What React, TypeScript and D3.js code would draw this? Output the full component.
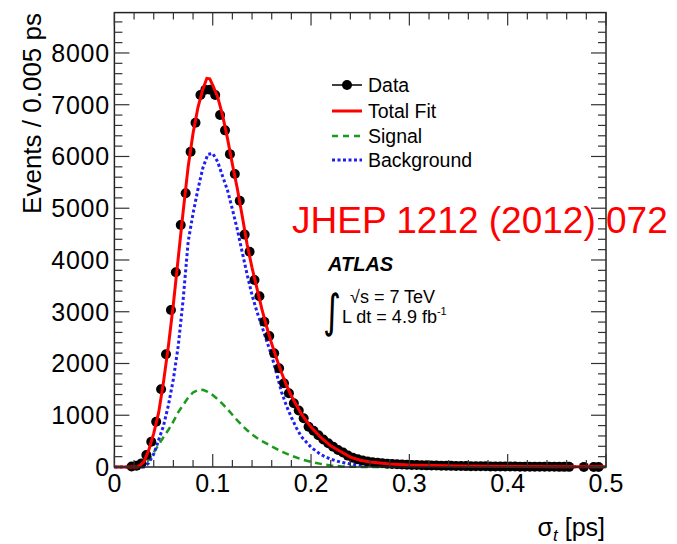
import React from 'react';
import * as d3 from 'd3';

const W = 677;
const H = 544;

// data points (bin centres, 0.005 ps bins)
const dataX = [
  0.0175, 0.0225, 0.0275, 0.0325, 0.0375, 0.0425, 0.0475, 0.0525, 0.0575, 0.0625,
  0.0675, 0.0725, 0.0775, 0.0825, 0.0875, 0.0925, 0.0975, 0.1025, 0.1075, 0.1125,
  0.1175, 0.1225, 0.1275, 0.1325, 0.1375, 0.1425, 0.1475, 0.1525, 0.1575, 0.1625,
  0.1675, 0.1725, 0.1775, 0.1825, 0.1875, 0.1925, 0.1975, 0.2025, 0.2075, 0.2125,
  0.2175, 0.2225, 0.2275, 0.2325, 0.2375, 0.2425, 0.2475, 0.2525, 0.2575, 0.2625,
  0.2675, 0.2725, 0.2775, 0.2825, 0.2875, 0.2925, 0.2975, 0.3025, 0.3075, 0.3125,
  0.3175, 0.3225, 0.3275, 0.3325, 0.3375, 0.3425, 0.3475, 0.3525, 0.3575, 0.3625,
  0.3675, 0.3725, 0.3775, 0.3825, 0.3875, 0.3925, 0.3975, 0.4025, 0.4075, 0.4125,
  0.4175, 0.4225, 0.4275, 0.4325, 0.4375, 0.4425, 0.4475, 0.4525, 0.4575, 0.4625,
  0.4775, 0.4875, 0.4925,
];
const dataY = [
  10, 25, 70, 232, 489, 875, 1501, 2177, 3034, 3762,
  4676, 5289, 6093, 6653, 7188, 7290, 7290, 7188, 6802, 6505,
  6045, 5660, 5146, 4490, 4160, 3614, 3300, 2808, 2531, 2197,
  1907, 1617, 1424, 1231, 1090, 941, 779, 700, 615, 530,
  460, 390, 330, 280, 220, 180, 150, 125, 105, 92,
  82, 73, 65, 58, 52, 47, 43, 40, 37, 35,
  32, 30, 28, 26, 24, 22, 20, 19, 17, 16,
  15, 14, 13, 12, 11, 10, 9, 9, 8, 7,
  7, 6, 6, 5, 5, 4, 4, 3, 3, 3,
  2, 1, 1,
];

// total fit
const fitX = [
  0, 0.024, 0.03, 0.035, 0.04, 0.045, 0.05, 0.055, 0.06, 0.065, 0.07, 0.075, 0.08,
  0.085, 0.09, 0.094, 0.097, 0.1, 0.105, 0.11, 0.115, 0.12, 0.125, 0.13, 0.135,
  0.14, 0.145, 0.15, 0.155, 0.16, 0.165, 0.17, 0.175, 0.18, 0.19, 0.2, 0.21, 0.22,
  0.23, 0.24, 0.25, 0.26, 0.28, 0.3, 0.35, 0.4, 0.45, 0.5,
];
const fitY = [
  0, 0, 100, 330, 650, 1050, 1650, 2350, 3150, 4050, 4950, 5800, 6450,
  6950, 7300, 7510, 7500, 7380, 7150, 6800, 6350, 5850, 5380, 4850, 4300,
  3850, 3450, 3050, 2700, 2380, 2090, 1820, 1580, 1370, 1030, 770, 570, 410,
  300, 190, 130, 95, 60, 40, 20, 10, 5, 3,
];

// signal component
const sigX = [
  0, 0.025, 0.03, 0.035, 0.04, 0.045, 0.05, 0.055, 0.06, 0.065, 0.07, 0.075, 0.08,
  0.085, 0.09, 0.095, 0.1, 0.105, 0.11, 0.115, 0.12, 0.125, 0.13, 0.135, 0.14,
  0.145, 0.15, 0.16, 0.17, 0.18, 0.19, 0.2, 0.21, 0.22, 0.23, 0.24, 0.25, 0.3, 0.5,
];
const sigY = [
  0, 0, 40, 140, 280, 430, 580, 720, 880, 1060, 1200, 1340, 1440,
  1485, 1490, 1450, 1390, 1310, 1220, 1120, 1010, 900, 800, 710, 630,
  560, 500, 400, 300, 220, 150, 100, 60, 30, 15, 5, 2, 0, 0,
];

// background component
const bkgX = [
  0, 0.03, 0.035, 0.04, 0.045, 0.05, 0.055, 0.06, 0.065, 0.07, 0.075, 0.08, 0.085,
  0.09, 0.095, 0.1, 0.105, 0.11, 0.115, 0.12, 0.125, 0.13, 0.135, 0.14, 0.145,
  0.15, 0.155, 0.16, 0.165, 0.17, 0.175, 0.18, 0.185, 0.19, 0.2, 0.21, 0.22, 0.23,
  0.24, 0.25, 0.28, 0.3, 0.4, 0.5,
];
const bkgY = [
  0, 0, 80, 250, 520, 800, 1200, 1700, 2350, 3250, 4350, 4900, 5370,
  5780, 6040, 6060, 5900, 5620, 5350, 4980, 4590, 4150, 3720, 3320, 3000,
  2720, 2430, 2150, 1800, 1450, 1180, 960, 760, 590, 380, 240, 150, 95,
  60, 40, 20, 15, 5, 2,
];

const xTicks = [0, 0.1, 0.2, 0.3, 0.4, 0.5];
const xTickLabels = ['0', '0.1', '0.2', '0.3', '0.4', '0.5'];
const yTicks = [0, 1000, 2000, 3000, 4000, 5000, 6000, 7000, 8000];

const legendItems = ['Data', 'Total Fit', 'Signal', 'Background'];

const FONT = "'Liberation Sans', Arial, Helvetica, sans-serif";

const x = d3.scaleLinear().domain([0, 0.5]).range([114.4, 606]);
const y = d3.scaleLinear().domain([0, 8780]).range([467, 12.6]);

function App() {
  const line = d3.line<[number, number]>().x(d => x(d[0])).y(d => y(d[1]));
  const fitPath = line(fitX.map((v, i) => [v, fitY[i]]));
  const sigPath = line(sigX.map((v, i) => [v, sigY[i]]));
  const bkgPath = line(bkgX.map((v, i) => [v, bkgY[i]]));

  const [x0, x1] = x.range();
  const [y0, y1] = y.range();

  const xMinor = d3.range(0, 0.5001, 0.02);
  const yMinor = d3.range(0, 8780, 200);

  const legY = [85, 111, 136, 160];

  return (
    <svg width={W} height={H} style={{ position: 'absolute', left: 0, top: 0, background: '#fff' }}
      fontFamily={FONT}>
      {/* curves */}
      <path d={sigPath!} fill="none" stroke="#1a9a1a" strokeWidth={2.5} strokeDasharray="7,4.5" />
      <path d={bkgPath!} fill="none" stroke="#1f1ff5" strokeWidth={3} strokeDasharray="3,2.5" />

      {/* data */}
      {dataX.map((v, i) => (
        <circle key={i} cx={x(v)} cy={y(dataY[i])} r={5} fill="#000" />
      ))}
      <path d={fitPath!} fill="none" stroke="#f00" strokeWidth={3} />

      {/* frame */}
      <rect x={x0} y={y1} width={x1 - x0} height={y0 - y1} fill="none" stroke="#222" strokeWidth={1.5} />

      {/* x ticks */}
      {xMinor.map((v, i) => {
        const major = i % 5 === 0;
        const len = major ? 13 : 7;
        return (
          <g key={'xt' + i} stroke="#333" strokeWidth={1.2}>
            <line x1={x(v)} x2={x(v)} y1={y0} y2={y0 - len} />
            <line x1={x(v)} x2={x(v)} y1={y1} y2={y1 + len} />
          </g>
        );
      })}
      {/* y ticks */}
      {yMinor.map((v, i) => {
        const major = i % 5 === 0;
        const len = major ? 15 : 8;
        return (
          <g key={'yt' + i} stroke="#333" strokeWidth={1.2}>
            <line x1={x0} x2={x0 + len} y1={y(v)} y2={y(v)} />
            <line x1={x1} x2={x1 - len} y1={y(v)} y2={y(v)} />
          </g>
        );
      })}

      {/* tick labels */}
      {xTicks.map((v, i) => (
        <text key={'xl' + i} x={x(v)} y={492} fontSize={25} textAnchor="middle" fill="#000">
          {xTickLabels[i]}
        </text>
      ))}
      {yTicks.map((v, i) => (
        <text key={'yl' + i} x={110} y={y(v) + 9} fontSize={25} textAnchor="end" fill="#000" letterSpacing={0.8}>
          {String(v)}
        </text>
      ))}

      {/* axis titles */}
      <text transform="translate(41,13) rotate(-90)" fontSize={26} textAnchor="end" fill="#000">
        Events / 0.005 ps
      </text>
      <text x={605} y={536} fontSize={25} textAnchor="end" fill="#000">
        σ<tspan fontStyle="italic" fontSize={17} dy={5}>t</tspan>
        <tspan dy={-5}> [ps]</tspan>
      </text>

      {/* legend */}
      <g>
        <line x1={332} x2={362} y1={legY[0]} y2={legY[0]} stroke="#000" strokeWidth={1.5} />
        <circle cx={347} cy={legY[0]} r={5} fill="#000" />
        <line x1={332} x2={362} y1={legY[1]} y2={legY[1]} stroke="#f00" strokeWidth={3} />
        <line x1={332} x2={362} y1={legY[2]} y2={legY[2]} stroke="#1a9a1a" strokeWidth={2.5} strokeDasharray="6,5" />
        <line x1={332} x2={362} y1={legY[3]} y2={legY[3]} stroke="#1f1ff5" strokeWidth={3} strokeDasharray="3,2.5" />
        {legendItems.map((t, i) => (
          <text key={t} x={368} y={legY[i] + 7} fontSize={19.5} fill="#000">{t}</text>
        ))}
      </g>

      {/* ATLAS label */}
      <text x={328} y={271} fontSize={20} fontWeight="bold" fontStyle="italic" fill="#000">ATLAS</text>
      <text transform="translate(323,327) scale(0.75,1)" fontSize={46} fill="#000"
        fontFamily="'DejaVu Sans', sans-serif">∫</text>
      <text x={350} y={303} fontSize={18} fill="#000">√s = 7 TeV</text>
      <text x={342} y={323} fontSize={18} fill="#000">
        L dt = 4.9 fb<tspan fontSize={11} dy={-8}>-1</tspan>
      </text>

      {/* reference */}
      <text x={292} y={233} fontSize={37} fill="#f00">JHEP 1212 (2012) 072</text>
    </svg>
  );
}

export default App;
